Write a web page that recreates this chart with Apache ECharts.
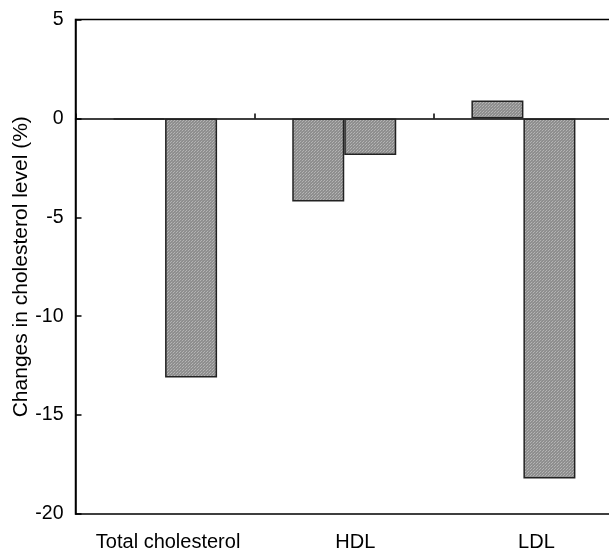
<!DOCTYPE html>
<html>
<head>
<meta charset="utf-8">
<script src="https://cdn.jsdelivr.net/npm/echarts@6/dist/echarts.min.js"></script>
<style>html,body{margin:0;padding:0;background:#fff}#c{width:609px;height:549px}</style>
</head>
<body>
<div id="c"></div>
<script>
var categories = ['Total cholesterol', 'HDL', 'LDL'];
var series1 = [-0.05, -4.2, 0.9];
var series2 = [-13.1, -1.85, -18.2];
var yTicks = [-20, -15, -10, -5, 0, 5];

// label nudges (layout only)
var labelPad = [6, 22, 26];

function makePattern() {
  var c = document.createElement('canvas');
  c.width = 3; c.height = 3;
  var ctx = c.getContext('2d');
  ctx.fillStyle = '#8e8e8e';
  ctx.fillRect(0, 0, 3, 3);
  ctx.fillStyle = '#b4b4b4';
  ctx.fillRect(0, 0, 1, 1);
  ctx.fillRect(2, 1, 1, 1);
  ctx.fillStyle = '#9c9c9c';
  ctx.fillRect(1, 2, 1, 1);
  return c;
}
var pat = {image: makePattern(), repeat: 'repeat'};

var chart = echarts.init(document.getElementById('c'));
var font = 'Liberation Sans, Arial, sans-serif';
var barStyle = {color: pat, borderColor: '#222', borderWidth: 1.5};

chart.setOption({
  animation: false,
  backgroundColor: '#fff',
  grid: {left: 75.5, top: 19.5, right: -4, bottom: 35, containLabel: false, outerBoundsMode: 'none',
         show: true, borderColor: '#000', borderWidth: 1.5, backgroundColor: 'transparent'},
  xAxis: [{
    type: 'category',
    data: categories,
    axisLine: {onZero: true, lineStyle: {color: '#000', width: 1.5}},
    axisTick: {show: true, inside: true, length: 5, lineStyle: {color: '#000', width: 1.5}},
    axisLabel: {show: false},
    splitLine: {show: false}
  }, {
    type: 'category',
    position: 'bottom',
    data: categories.map(function (c, i) {
      return {value: c, textStyle: {padding: [0, 0, 0, labelPad[i]]}};
    }),
    axisLine: {show: false, onZero: false},
    axisTick: {show: false},
    axisLabel: {show: true, interval: 0, hideOverlap: false, margin: 18, color: '#000', fontSize: 20, fontFamily: font},
    splitLine: {show: false}
  }],
  yAxis: {
    type: 'value',
    min: yTicks[0],
    max: yTicks[yTicks.length - 1],
    interval: 5,
    name: 'Changes in cholesterol level (%)',
    nameLocation: 'middle',
    nameGap: 44,
    nameMoveOverlap: false,
    nameTextStyle: {color: '#000', fontSize: 21, fontFamily: font},
    axisLine: {show: true, lineStyle: {color: '#000', width: 1.5}},
    axisTick: {show: true, inside: true, length: 6, lineStyle: {color: '#000', width: 1.5}},
    axisLabel: {color: '#000', fontSize: 19.5, fontFamily: font, margin: 12},
    splitLine: {show: false}
  },
  series: [{
    type: 'bar',
    data: series1,
    xAxisIndex: 0,
    barWidth: 52,
    barGap: '0%',
    itemStyle: barStyle
  }, {
    type: 'bar',
    data: series2,
    xAxisIndex: 0,
    barWidth: 52,
    barGap: '0%',
    itemStyle: barStyle
  }]
});
</script>
</body>
</html>
